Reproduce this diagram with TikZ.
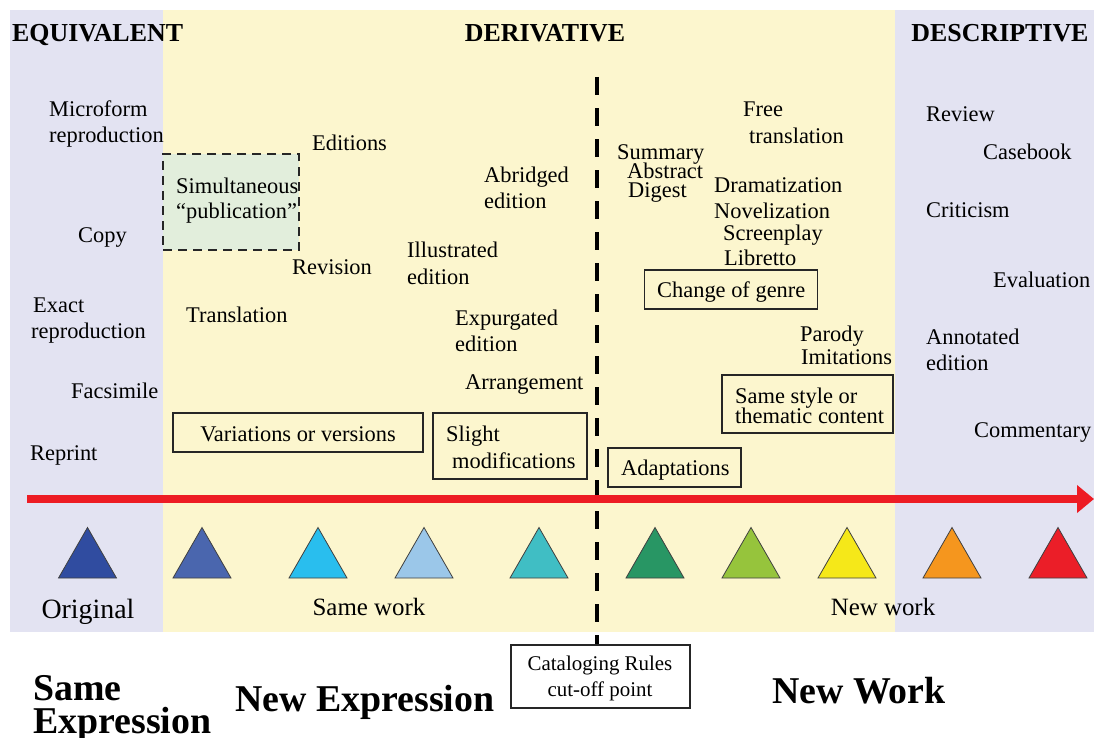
\documentclass[tikz,border=0pt]{standalone}
\usepackage{fontspec}
\setmainfont{Liberation Serif}
\usetikzlibrary{arrows.meta}
\definecolor{lav}{RGB}{227,227,242}
\definecolor{cream}{RGB}{252,246,206}
\definecolor{palegreen}{RGB}{226,238,220}
\definecolor{arrowred}{RGB}{237,28,36}
\definecolor{tA}{RGB}{48,76,160}
\definecolor{tB}{RGB}{74,102,174}
\definecolor{tC}{RGB}{41,190,238}
\definecolor{tD}{RGB}{155,199,233}
\definecolor{tE}{RGB}{64,190,196}
\definecolor{tF}{RGB}{40,150,100}
\definecolor{tG}{RGB}{150,196,60}
\definecolor{tH}{RGB}{245,232,25}
\definecolor{tI}{RGB}{245,150,30}
\definecolor{tJ}{RGB}{235,30,40}
\begin{document}
\begin{tikzpicture}[x=1bp,y=-1bp,
  lbl/.style={inner sep=0pt,anchor=base west,font=\fontsize{22.5}{26}\selectfont},
  lblc/.style={inner sep=0pt,anchor=base,font=\fontsize{22.5}{26}\selectfont},
  hdr/.style={inner sep=0pt,font=\fontsize{26}{30}\selectfont\bfseries},
  big/.style={inner sep=0pt,anchor=base west,font=\fontsize{38}{40}\selectfont\bfseries},
  under/.style={inner sep=0pt,anchor=base,font=\fontsize{25}{30}\selectfont},
  boxed/.style={draw=black!85,line width=1.1bp,inner sep=0pt},
  tri/.style={draw=black!75,line width=0.8bp,line join=miter}]
\useasboundingbox (0,0) rectangle (1094,738);
\fill[white] (0,0) rectangle (1094,738);
% panels
\fill[lav] (10,10) rectangle (163,632);
\fill[cream] (163,10) rectangle (895,632);
\fill[lav] (895,10) rectangle (1094,632);
% headers
\node[hdr,anchor=base west] (h-eq) at (12,42) {EQUIVALENT};
\node[hdr,anchor=base] (h-der) at (545,42) {DERIVATIVE};
\node[hdr,anchor=base] (h-des) at (1000,42) {DESCRIPTIVE};
% equivalent column
\node[lbl] (micro1) at (49,116) {Microform};
\node[lbl] (micro2) at (49,142) {reproduction};
\node[lbl] (copy) at (78,242) {Copy};
\node[lbl] (exact1) at (33,312) {Exact};
\node[lbl] (exact2) at (31,338) {reproduction};
\node[lbl] (facs) at (71,398) {Facsimile};
\node[lbl] (reprint) at (30,460) {Reprint};
% simultaneous publication
\node[draw=black!85,line width=2bp,dash pattern=on 9bp off 6bp,fill=palegreen,
  minimum width=136bp,minimum height=96bp,inner sep=0pt] (simbox) at (231,202) {};
\node[lbl] (sim1) at (176,193) {Simultaneous};
\node[lbl] (sim2) at (176,218) {``publication''};
% derivative, same work
\node[lbl] (editions) at (312,150) {Editions};
\node[lbl] (revision) at (292,274) {Revision};
\node[lbl] (translation) at (186,322) {Translation};
\node[lbl] (illus1) at (407,257) {Illustrated};
\node[lbl] (illus2) at (407,284) {edition};
\node[lbl] (abr1) at (484,182) {Abridged};
\node[lbl] (abr2) at (484,208) {edition};
\node[lbl] (exp1) at (455,325) {Expurgated};
\node[lbl] (exp2) at (455,351) {edition};
\node[lbl] (arr) at (465,389) {Arrangement};
\node[boxed,minimum width=250bp,minimum height=39bp] (varbox) at (298,432.5) {};
\node[lblc] (vartxt) at (298,441) {Variations or versions};
\node[boxed,minimum width=154bp,minimum height=66bp] (slbox) at (510,446) {};
\node[lbl] (sl1) at (446,441) {Slight};
\node[lbl] (sl2) at (452,468) {modifications};
% cut-off line and box
\coordinate (cuttop) at (597,77);
\node[boxed,fill=white,minimum width=179bp,minimum height=63bp] (cat) at (600.5,676.5) {};
\draw[line width=4.5bp,dash pattern=on 18bp off 13bp] (cuttop) -- (cat.north -| cuttop);
\node[boxed,fill=white,minimum width=179bp,minimum height=63bp] (cat2) at (600.5,676.5) {};
\node[inner sep=0pt,anchor=base,font=\fontsize{21}{26}\selectfont] (cat1) at (600,670) {Cataloging Rules};
\node[inner sep=0pt,anchor=base,font=\fontsize{21}{26}\selectfont] (catb) at (600,696) {cut-off point};
% derivative, new work
\node[lbl] (free1) at (743,116) {Free};
\node[lbl] (free2) at (749,143) {translation};
\node[lbl] (summ) at (617,159) {Summary};
\node[lbl] (abst) at (627,178) {Abstract};
\node[lbl] (dig) at (628,197) {Digest};
\node[lbl] (drama) at (714,192) {Dramatization};
\node[lbl] (novel) at (714,218) {Novelization};
\node[lbl] (screen) at (723,240) {Screenplay};
\node[lbl] (lib) at (724,265) {Libretto};
\node[boxed,minimum width=173bp,minimum height=39bp] (genbox) at (731,289.5) {};
\node[lbl] (gen) at (657,297) {Change of genre};
\node[lbl] (parody) at (800,341) {Parody};
\node[lbl] (imit) at (801,364) {Imitations};
\node[boxed,minimum width=171bp,minimum height=58bp] (stbox) at (807.5,404) {};
\node[lbl] (st1) at (735,403) {Same style or};
\node[lbl] (st2) at (735,423) {thematic content};
\node[boxed,minimum width=133bp,minimum height=39bp] (adbox) at (674.5,467.5) {};
\node[lbl] (ad) at (621,475) {Adaptations};
% descriptive
\node[lbl] (review) at (926,121) {Review};
\node[lbl] (casebook) at (983,159) {Casebook};
\node[lbl] (crit) at (926,217) {Criticism};
\node[lbl] (eval) at (993,287) {Evaluation};
\node[lbl] (ann1) at (926,344) {Annotated};
\node[lbl] (ann2) at (926,370) {edition};
\node[lbl] (comm) at (974,437) {Commentary};
% red arrow
\coordinate (tlstart) at (27,499);
\coordinate (tlend) at (1094,499);
\draw[arrowred,line width=8bp,-{Triangle[length=17bp,width=27bp]}] (tlstart) -- (tlend);
% triangles
\foreach \x/\c in {87.5/tA,202/tB,318/tC,424/tD,539/tE,655/tF,751/tG,847/tH,952/tI,1058/tJ}{
  \draw[tri,fill=\c] (\x-29,578) -- (\x,527.5) -- (\x+29,578) -- cycle;
}
% under labels
\node[inner sep=0pt,anchor=base,font=\fontsize{28}{30}\selectfont] (orig) at (88,618) {Original};
\node[under] (samework) at (369,615) {Same work};
\node[under] (newwork) at (883,615) {New work};
% bottom categories
\node[big] (same1) at (33,700) {Same};
\node[big] (same2) at (33,733) {Expression};
\node[big] (newexp) at (235,711) {New Expression};
\node[big] (newwk) at (772,703) {New Work};
\end{tikzpicture}
\end{document}
